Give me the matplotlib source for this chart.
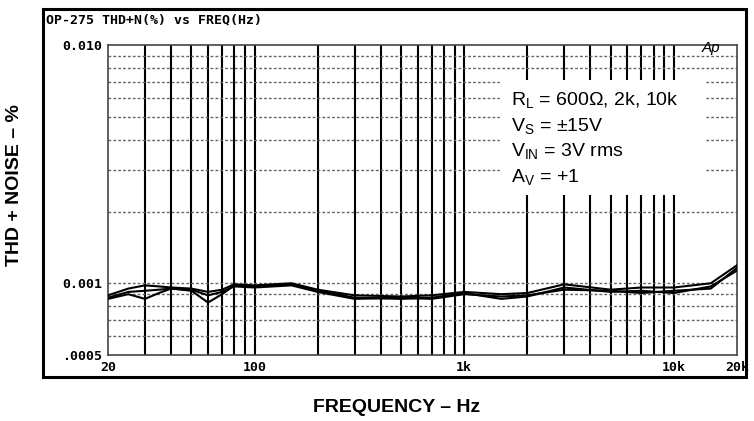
import numpy as np
import matplotlib
matplotlib.use("Agg")
import matplotlib.pyplot as plt
from matplotlib.patches import Rectangle
from matplotlib.ticker import FixedLocator, NullFormatter

# frequency points (Hz) and THD+N (%) for the three load resistances
freq = [20, 25, 30, 35, 40, 50, 60, 70, 80, 100, 150, 200, 300, 500, 700,
        1000, 1500, 2000, 3000, 5000, 7000, 10000, 15000, 20000]
thd_600 = [0.00086, 0.00090, 0.00086, 0.00091, 0.00095, 0.00093, 0.00083, 0.00090,
           0.00098, 0.00097, 0.00099, 0.00093, 0.00087, 0.00086, 0.00087, 0.00091,
           0.00086, 0.00088, 0.00096, 0.00092, 0.00093, 0.00091, 0.00097, 0.00113]
thd_2k = [0.00089, 0.00095, 0.00098, 0.00097, 0.00096, 0.00095, 0.00092, 0.00094,
          0.00099, 0.00098, 0.00100, 0.00094, 0.00089, 0.00088, 0.00089, 0.00092,
          0.00090, 0.00091, 0.00099, 0.00094, 0.00096, 0.00096, 0.00100, 0.00119]
thd_10k = [0.00087, 0.00092, 0.00093, 0.00094, 0.00095, 0.00094, 0.00089, 0.00092,
           0.00097, 0.00096, 0.00098, 0.00092, 0.00086, 0.00087, 0.00086, 0.00090,
           0.00088, 0.00089, 0.00094, 0.00093, 0.00091, 0.00093, 0.00095, 0.00116]

xticks = [20, 100, 1000, 10000, 20000]
xlabels = ["20", "100", "1k", "10k", "20k"]
yticks = [0.01, 0.001, 0.0005]
ylabels = ["0.010", "0.001", ".0005"]
conditions = ["R$_\\mathregular{L}$ = 600\u03a9, 2k, 10k",
              "V$_\\mathregular{S}$ = \u00b115V",
              "V$_\\mathregular{IN}$ = 3V rms",
              "A$_\\mathregular{V}$ = +1"]

W, H = 754, 421
fig = plt.figure(figsize=(W / 100, H / 100), dpi=100)
ax = fig.add_axes([108 / W, 1 - 355 / H, 629 / W, 310 / H])

mono = dict(family="DejaVu Sans Mono", weight="bold", size=9.5)

# outer frame
fig.patches.append(Rectangle((43 / W, 1 - 377 / H), 703 / W, 368 / H,
                             transform=fig.transFigure, fill=False,
                             edgecolor="black", linewidth=2.2))

ax.set_xscale("log")
ax.set_yscale("log")
ax.set_xlim(20, 20000)
ax.set_ylim(0.0005, 0.01)

# grid: solid vertical lines, dotted horizontal lines
xgrid = [m * 10 ** e for e in range(1, 5) for m in range(1, 10)]
xgrid = [v for v in xgrid if 20 < v < 20000]
for v in xgrid:
    ax.axvline(v, color="black", linewidth=1.5, zorder=1)
ygrid = [m * 10 ** e for e in (-4, -3) for m in range(1, 10)]
ygrid = [v for v in ygrid if 0.0005 < v < 0.01]
for v in ygrid:
    ax.axhline(v, color="#666666", linewidth=1.0, linestyle=(0, (2, 1.5)), zorder=1)

ax.xaxis.set_major_locator(FixedLocator(xticks))
ax.xaxis.set_minor_locator(FixedLocator([]))
ax.xaxis.set_minor_formatter(NullFormatter())
ax.yaxis.set_major_locator(FixedLocator(yticks))
ax.yaxis.set_minor_locator(FixedLocator([]))
ax.yaxis.set_minor_formatter(NullFormatter())
ax.set_xticklabels(xlabels, **mono)
ax.set_yticklabels(ylabels, **mono)
ax.tick_params(length=0, pad=4)
for s in ax.spines.values():
    s.set_linewidth(1.2)
    s.set_color("#444444")

# white panel behind the test conditions
ax.add_patch(Rectangle((500 / W, 1 - 195 / H), 205 / W, 115 / H,
                       transform=fig.transFigure, facecolor="white",
                       edgecolor="none", zorder=2))

for y in (thd_600, thd_2k, thd_10k):
    ax.plot(freq, y, color="black", linewidth=1.5, zorder=3)

for i, t in enumerate(conditions):
    fig.text(511 / W, 1 - (101 + i * 25.5) / H, t, fontsize=14,
             family="Liberation Sans", va="center", ha="left")

fig.text(702 / W, 1 - 48 / H, "Ap", fontsize=11, style="italic",
         family="Liberation Sans", va="center", ha="left")
fig.text(46 / W, 1 - 20 / H, "OP-275 THD+N(%) vs FREQ(Hz)", va="center",
         ha="left", **mono)

fig.text(397 / W, 1 - 408 / H, "FREQUENCY \u2013 Hz", fontsize=14,
         weight="bold", family="Liberation Sans", ha="center", va="center")
fig.text(15 / W, 1 - 185 / H, "THD + NOISE \u2013 %", fontsize=14,
         weight="bold", family="Liberation Sans", ha="center", va="center",
         rotation=90)

fig.savefig("out.png", dpi=100)
